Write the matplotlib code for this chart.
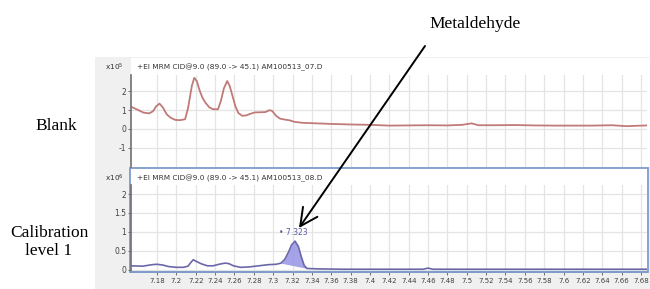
import numpy as np
import matplotlib
matplotlib.use("Agg")
import matplotlib.pyplot as plt
from matplotlib.patches import Rectangle, FancyArrowPatch
from matplotlib.ticker import FuncFormatter

# ---------------- data ----------------
blank_rt = [7.153, 7.160, 7.166, 7.172, 7.176, 7.179, 7.1825, 7.186, 7.190, 7.194,
            7.199, 7.204, 7.209, 7.212, 7.214, 7.216, 7.2185, 7.221, 7.224, 7.227,
            7.230, 7.234, 7.238, 7.243, 7.246, 7.249, 7.2525, 7.255, 7.258, 7.261,
            7.264, 7.268, 7.272, 7.276, 7.281, 7.287, 7.292, 7.296, 7.299, 7.303,
            7.307, 7.312, 7.317, 7.322, 7.330, 7.345, 7.360, 7.380, 7.400, 7.420,
            7.440, 7.460, 7.480, 7.495, 7.505, 7.512, 7.530, 7.550, 7.570, 7.590,
            7.610, 7.630, 7.650, 7.665, 7.686]
blank_int = [1.19, 1.02, 0.87, 0.83, 0.95, 1.20, 1.35, 1.15, 0.78, 0.60,
             0.48, 0.47, 0.52, 1.10, 1.70, 2.30, 2.72, 2.55, 2.05, 1.65,
             1.40, 1.15, 1.05, 1.05, 1.50, 2.15, 2.55, 2.30, 1.75, 1.20,
             0.85, 0.70, 0.72, 0.80, 0.88, 0.89, 0.90, 1.00, 0.96, 0.70,
             0.55, 0.50, 0.46, 0.38, 0.33, 0.30, 0.27, 0.24, 0.22, 0.18,
             0.19, 0.20, 0.19, 0.22, 0.30, 0.20, 0.20, 0.21, 0.19, 0.18,
             0.18, 0.18, 0.20, 0.15, 0.19]

cal_rt = [7.153, 7.165, 7.175, 7.180, 7.186, 7.192, 7.200, 7.207, 7.212, 7.215,
          7.2175, 7.221, 7.226, 7.232, 7.238, 7.244, 7.250, 7.254, 7.259, 7.266,
          7.275, 7.285, 7.295, 7.303, 7.308, 7.312, 7.316, 7.319, 7.3225, 7.326,
          7.329, 7.332, 7.335, 7.345, 7.370, 7.400, 7.440, 7.455, 7.460, 7.465,
          7.500, 7.600, 7.686]
cal_int = [0.11, 0.10, 0.14, 0.15, 0.13, 0.09, 0.07, 0.07, 0.10, 0.20,
           0.27, 0.22, 0.16, 0.11, 0.11, 0.15, 0.18, 0.17, 0.11, 0.07,
           0.08, 0.11, 0.14, 0.15, 0.18, 0.28, 0.48, 0.66, 0.76, 0.62,
           0.35, 0.12, 0.04, 0.03, 0.02, 0.02, 0.02, 0.02, 0.05, 0.02,
           0.02, 0.02, 0.02]

peak_start = 7.308
peak_end = 7.335
peak_label = "\u2022 7.323"

x_ticks = [7.18 + 0.02 * i for i in range(26)]
blank_yticks = [-1, 0, 1, 2]
cal_yticks = [0, 0.5, 1, 1.5, 2]

header_blank = "+EI MRM CID@9.0 (89.0 -> 45.1) AM100513_07.D"
header_cal = "+EI MRM CID@9.0 (89.0 -> 45.1) AM100513_08.D"

# ---------------- figure ----------------
W, H = 650, 289
fig = plt.figure(figsize=(6.5, 2.89), dpi=100)
fig.patch.set_facecolor("white")

def fx(px):
    return px / W

def fy(py):
    return 1 - py / H

# gray software background
fig.add_artist(Rectangle((fx(95), 0), fx(650) - fx(95), fy(57), transform=fig.transFigure,
                         facecolor="#f0f0f0", edgecolor="none", zorder=-3))
# white panel areas
fig.add_artist(Rectangle((fx(131), fy(167)), fx(650) - fx(131), fy(58) - fy(167),
                         transform=fig.transFigure, facecolor="white", edgecolor="none", zorder=-2))
fig.add_artist(Rectangle((fx(130), fy(272)), fx(648) - fx(130), fy(168) - fy(272),
                         transform=fig.transFigure, facecolor="white", edgecolor="#7d9bcb",
                         linewidth=1.3, zorder=-1))

xl, xr = 131, 647
ax1 = fig.add_axes([fx(xl), fy(167), fx(xr) - fx(xl), fy(75) - fy(167)])
ax2 = fig.add_axes([fx(xl), fy(272), fx(xr) - fx(xl), fy(185) - fy(272)])

xlim = (7.1531, 7.6862)
tick_col = "#404040"
for ax in (ax1, ax2):
    ax.set_facecolor("none")
    ax.set_xlim(*xlim)
    ax.set_xticks(x_ticks)
    ax.grid(True, color="#e4e4e4", linewidth=0.9)
    ax.set_axisbelow(True)
    for s in ("top", "right"):
        ax.spines[s].set_visible(False)
    ax.spines["left"].set_color("#707070")
    ax.spines["left"].set_linewidth(1.2)
    ax.tick_params(axis="both", direction="out", length=2.5, width=0.7, colors="#707070",
                   labelsize=5.5, labelcolor=tick_col, pad=1)
    ax.yaxis.set_major_formatter(FuncFormatter(lambda v, p: f"{v:g}"))

# top panel
ax1.set_ylim(-2.02, 2.87)
ax1.set_yticks(blank_yticks)
ax1.spines["bottom"].set_visible(False)
ax1.tick_params(axis="x", length=0, labelbottom=False)
ax1.plot(blank_rt, blank_int, color="#c07a78", linewidth=1.3)

# bottom panel
ax2.set_ylim(-0.053, 2.237)
ax2.set_yticks(cal_yticks)
ax2.spines["bottom"].set_color("#7d9bcb")
ax2.spines["bottom"].set_linewidth(1.3)
ax2.tick_params(axis="x", labelsize=5.0, pad=2)
ax2.xaxis.set_major_formatter(FuncFormatter(lambda v, p: f"{v:g}"))
ax2.plot(cal_rt, cal_int, color="#6a68a8", linewidth=1.2)
rt = np.array(cal_rt)
it = np.array(cal_int)
mask = (rt >= peak_start) & (rt <= peak_end)
base = np.interp(rt, [peak_start, peak_end],
                 [np.interp(peak_start, rt, it), np.interp(peak_end, rt, it)])
ax2.fill_between(rt, base, it, where=mask, color="#9c9ae6", alpha=0.9, linewidth=0)
ax2.text(7.3205, 0.86, peak_label, ha="center", va="bottom", fontsize=5.5, color="#5a5aa0")

# headers and multipliers
fig.text(fx(137), fy(67), header_blank, fontsize=5.3, color="#333333", va="center", ha="left")
fig.text(fx(137), fy(178), header_cal, fontsize=5.3, color="#333333", va="center", ha="left")
fig.text(fx(124), fy(67), r"x10$^{5}$", fontsize=5.3, color="#333333", va="center", ha="right")
fig.text(fx(124), fy(178), r"x10$^{6}$", fontsize=5.3, color="#333333", va="center", ha="right")

# side labels
serif = ["Liberation Serif", "DejaVu Serif"]
fig.text(fx(56), fy(126), "Blank", family=serif, fontsize=12.5, ha="center", va="center")
fig.text(fx(49), fy(242), "Calibration\nlevel 1", family=serif, fontsize=12.5, ha="center",
         va="center", linespacing=1.15)

# Metaldehyde annotation
fig.text(fx(429), fy(24), "Metaldehyde", family=serif, fontsize=12.5, ha="left", va="center")
arrow = FancyArrowPatch((fx(425), fy(46)), (fx(299), fy(228)), transform=fig.transFigure,
                        arrowstyle="->,head_length=0.9,head_width=0.45", mutation_scale=14,
                        color="black", linewidth=1.4, shrinkA=0, shrinkB=0)
fig.add_artist(arrow)

fig.savefig("out.png", dpi=100)
